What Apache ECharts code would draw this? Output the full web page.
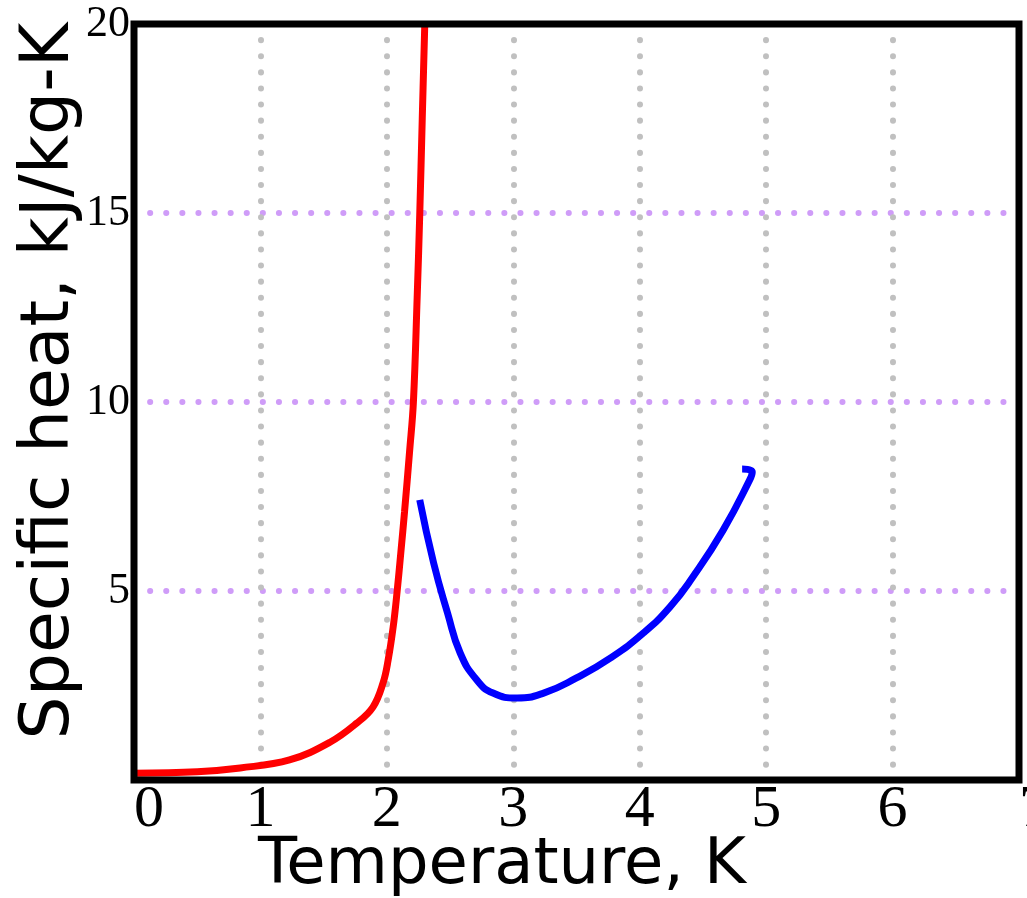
<!DOCTYPE html>
<html>
<head>
<meta charset="utf-8">
<script src="https://cdn.jsdelivr.net/npm/echarts@6/dist/echarts.min.js"></script>
<style>
html,body{margin:0;padding:0;background:#fff;}
#chart{width:1027px;height:898px;}
</style>
</head>
<body>
<div id="chart"></div>
<script>
// Red curve (below lambda point)
const redT = [0, 0.5, 0.84, 1.23, 1.55, 1.76, 1.89, 1.97, 2.01, 2.05, 2.08, 2.11, 2.14, 2.18, 2.21, 2.24, 2.26, 2.28, 2.30];
const redC = [0.18, 0.22, 0.32, 0.53, 1.0, 1.5, 1.93, 2.57, 3.17, 4.05, 4.95, 6.0, 7.1, 8.7, 10.0, 12.8, 14.95, 17.5, 20.0];
// Blue curve (above lambda point)
const blueT = [2.26, 2.37, 2.48, 2.58, 2.71, 2.84, 3.03, 3.24, 3.50, 3.77, 4.03, 4.24, 4.42, 4.66, 4.87, 4.89, 4.81];
const blueC = [7.41, 5.74, 4.42, 3.36, 2.65, 2.30, 2.17, 2.30, 2.70, 3.23, 3.89, 4.58, 5.37, 6.61, 7.94, 8.15, 8.23];

const xTitle = 'Temperature, K';
const yTitle = 'Specific heat, kJ/kg-K';

const chart = echarts.init(document.getElementById('chart'), null, {renderer: 'canvas'});
const zip = (a, b) => a.map((v, i) => [v, b[i]]);

chart.setOption({
  animation: false,
  backgroundColor: '#ffffff',
  grid: {
    left: 134, right: 8, top: 24, bottom: 118,
    containLabel: false, outerBoundsMode: 'none',
    show: true, borderColor: '#000', borderWidth: 7, backgroundColor: 'transparent', z: 10
  },
  xAxis: {
    type: 'value', min: 0, max: 7, interval: 1,
    axisLine: {show: false}, axisTick: {show: false},
    axisLabel: {fontFamily: 'Liberation Serif', fontSize: 60, color: '#000', margin: 0,
      alignMinLabel: 'left', alignMaxLabel: 'left'},
    splitLine: {show: true, showMinLine: false, showMaxLine: false,
      lineStyle: {color: '#c0c0c0', width: 6, type: [0.1, 16], cap: 'round'}}
  },
  yAxis: {
    type: 'value', min: 0, max: 20, interval: 5,
    axisLine: {show: false}, axisTick: {show: false},
    axisLabel: {fontFamily: 'Liberation Serif', fontSize: 44, color: '#000', margin: 4,
      formatter: v => v === 0 ? '' : String(v)},
    splitLine: {show: true, showMinLine: false, showMaxLine: false,
      lineStyle: {color: '#cf9cf8', width: 6, type: [0.1, 16], cap: 'round'}}
  },
  graphic: [
    {type: 'text', x: 502, y: 866, style: {text: xTitle, fontFamily: 'DejaVu Sans', fontSize: 64, fill: '#000', textAlign: 'center', textVerticalAlign: 'middle'}},
    {type: 'text', x: 50, y: 381, rotation: Math.PI / 2, style: {text: yTitle, fontFamily: 'DejaVu Sans', fontSize: 68, fill: '#000', textAlign: 'center', textVerticalAlign: 'middle'}}
  ],
  series: [
    {type: 'line', data: zip(redT, redC), smooth: 0.4, showSymbol: false, clip: true,
      lineStyle: {color: '#ff0000', width: 7}},
    {type: 'line', data: zip(blueT, blueC), smooth: 0.5, showSymbol: false, clip: true,
      lineStyle: {color: '#0000ff', width: 7}}
  ]
});
</script>
</body>
</html>
